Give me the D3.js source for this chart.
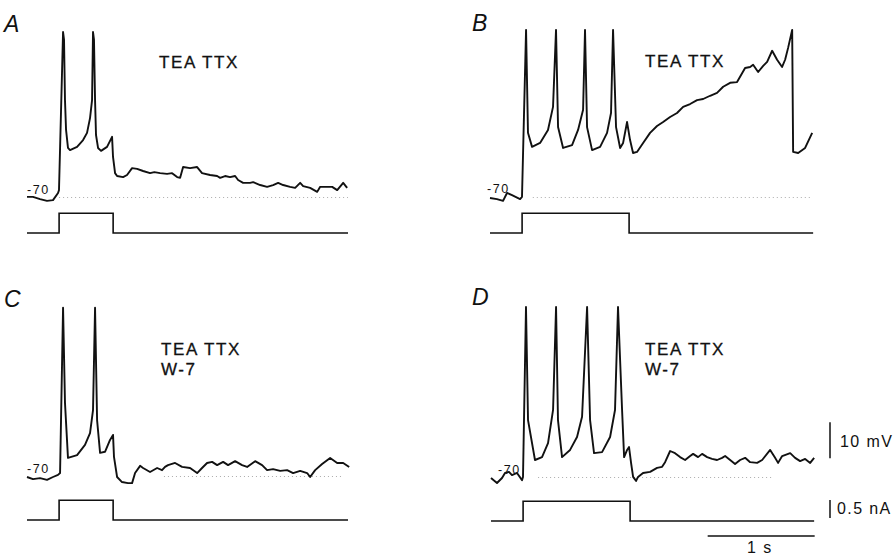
<!DOCTYPE html>
<html>
<head>
<meta charset="utf-8">
<script src="https://cdn.jsdelivr.net/npm/d3@7"></script>
<style>
  html, body { margin: 0; padding: 0; background: #fff; }
  svg text { font-family: "Liberation Sans", Arial, sans-serif; fill: #111; }
</style>
</head>
<body>
<div id="mainChart"></div>
<script>
// membrane potential, [time ms, mV]
const traceA = [
    [0, -69.7], [56, -69.7], [122, -70.3], [187, -70.8], [243, -70.6], [290, -68.6], [299, -67.8],
    [337, -23.9], [346, -26], [355, -42.8], [365, -51.1], [383, -56.1], [402, -56.7], [468, -55.8],
    [524, -53.9], [561, -51.9], [589, -47.8], [608, -42.8], [617, -23.9], [626, -26], [636, -42.8],
    [645, -52.5], [664, -56.1], [692, -56.9], [748, -55.8], [795, -53.0], [804, -58.6], [823, -63.1],
    [842, -63.9], [898, -64.2], [935, -63.6], [982, -61.7], [1029, -61.9], [1085, -62.5], [1150, -63.1],
    [1190, -62.8], [1244, -63.1], [1309, -63.3], [1356, -63.1], [1403, -64.2], [1431, -64.4], [1459, -61.4],
    [1524, -61.7], [1590, -61.4], [1636, -63.1], [1711, -63.6], [1777, -63.9], [1805, -64.4], [1851, -63.9],
    [1898, -64.2], [1945, -63.9], [1973, -65.0], [2020, -65.8], [2085, -65.8], [2113, -65.6], [2179, -66.4],
    [2244, -66.9], [2300, -66.4], [2347, -65.8], [2394, -66.4], [2459, -66.9], [2506, -67.2], [2553, -65.8],
    [2581, -66.7], [2646, -67.2], [2712, -68.3], [2740, -66.9], [2805, -66.9], [2852, -66.9], [2899, -67.8],
    [2955, -65.8], [2992, -67.2]
];
const traceB = [
    [0, -70], [65, -70.3], [122, -70.8], [159, -68.6], [206, -69.2], [281, -70.3], [299, -69.7],
    [337, -23.3], [355, -51.9], [393, -55.8], [468, -54.7], [542, -51.1], [589, -44.7], [617, -23.3],
    [636, -50.3], [683, -56.1], [767, -55.3], [823, -51.1], [870, -45.5], [888, -23.3], [907, -50.3],
    [954, -56.7], [1029, -55.8], [1094, -51.9], [1131, -46.4], [1150, -23.3], [1178, -50.3], [1216, -56.1],
    [1244, -54.7], [1281, -48.9], [1309, -53.9], [1337, -57.5], [1374, -57.2], [1431, -54.7], [1496, -51.9],
    [1561, -50.0], [1618, -48.9], [1683, -47.5], [1748, -46.4], [1805, -44.7], [1870, -43.9], [1935, -42.8],
    [1992, -42.5], [2057, -41.6], [2122, -40.8], [2179, -39.1], [2244, -38.0], [2309, -37.8], [2384, -33.9],
    [2431, -33.6], [2459, -33.0], [2506, -35.0], [2553, -33.3], [2590, -32.2], [2637, -29.1], [2683, -31.6],
    [2730, -33.6], [2758, -31.6], [2786, -28.3], [2824, -23.3], [2833, -57.2], [2880, -57.5], [2945, -56.1],
    [3011, -51.9]
];
const traceC = [
    [0, -70], [56, -70.6], [122, -70.3], [187, -70.8], [243, -70], [290, -69.4], [309, -68.9],
    [337, -23.0], [355, -49.4], [383, -64.7], [468, -63.9], [542, -61.1], [589, -57.8], [617, -51.4],
    [636, -23.0], [655, -54.2], [683, -63.3], [729, -63.0], [776, -59.7], [804, -58.3], [813, -64.4],
    [842, -70], [888, -71.4], [944, -71.7], [982, -71.7], [1010, -68.9], [1057, -66.9], [1085, -67.5],
    [1150, -68.6], [1216, -67.5], [1262, -68.1], [1290, -67.2], [1318, -66.7], [1384, -66.1], [1449, -67.2],
    [1524, -67.5], [1590, -68.9], [1636, -67.5], [1683, -66.1], [1730, -65.8], [1777, -66.7], [1833, -65.8],
    [1879, -66.7], [1945, -65.6], [2010, -66.7], [2057, -67.2], [2132, -65.6], [2197, -66.7], [2244, -68.1],
    [2300, -67.8], [2366, -68.3], [2431, -68.1], [2487, -68.9], [2553, -68.3], [2618, -68.9], [2646, -70],
    [2693, -68.1], [2758, -66.4], [2833, -64.7], [2899, -66.1], [2955, -66.1], [3011, -67.2]
];
const traceD = [
    [0, -70], [56, -71.4], [103, -70], [131, -68.6], [168, -68.3], [196, -69.2], [243, -68.6], [290, -70.6],
    [299, -69.7], [327, -22.5], [346, -53.9], [411, -65.0], [477, -64.2], [533, -60.3], [580, -51.1],
    [608, -22.5], [626, -53.9], [664, -64.2], [739, -62.2], [804, -58.6], [851, -53.0], [898, -22.5],
    [926, -53.9], [963, -63.1], [1038, -62.8], [1113, -58.6], [1159, -51.1], [1187, -22.5], [1225, -51.1],
    [1244, -64.2], [1272, -62.2], [1290, -61.4], [1309, -65.8], [1328, -69.7], [1356, -70.8], [1374, -69.7],
    [1421, -68.6], [1487, -68.3], [1552, -67.2], [1599, -66.9], [1627, -65.6], [1674, -62.5], [1720, -63.1],
    [1767, -64.2], [1814, -65.0], [1861, -63.9], [1889, -63.3], [1935, -64.2], [1973, -63.3], [2020, -64.2],
    [2066, -64.7], [2113, -65.0], [2160, -64.4], [2188, -63.9], [2235, -65.0], [2281, -66.1], [2328, -65.0],
    [2375, -64.4], [2422, -65.6], [2487, -65.8], [2534, -65.0], [2609, -62.2], [2655, -64.4], [2683, -65.8],
    [2721, -63.9], [2796, -63.1], [2842, -64.4], [2889, -65.3], [2936, -64.7], [2983, -65.8], [3020, -64.4]
];

// injected current, [time ms, nA]
const stimShort = [[0, 0], [300, 0], [300, 0.55], [805, 0.55], [805, 0], [3000, 0]];
const stimLong = [[0, 0], [300, 0], [300, 0.55], [1300, 0.55], [1300, 0], [3020, 0]];

const panelLetters = ['A', 'B', 'C', 'D'];
const drugLabels = [['TEA TTX'], ['TEA TTX'], ['TEA TTX', 'W-7'], ['TEA TTX', 'W-7']];
const restLabel = '-70';
const scaleLabels = { mv: '10 mV', na: '0.5 nA', s: '1 s' };

const CHART_SIZE = { width: 896, height: 559 };
const PX_PER_MS = 0.107;
const PX_PER_MV = 3.6;
const PX_PER_NA = 36;

const panels = [
    { trace: traceA, stim: stimShort, left: 27, vBase: 198, iBase: 233, rest: [27, 194], drugX: 159, drugY: 68, letter: [4, 32], dotted: [300, 3000] },
    { trace: traceB, stim: stimLong, left: 490, vBase: 198, iBase: 233, rest: [487, 193], drugX: 645, drugY: 67, letter: [472, 31], dotted: [400, 2990] },
    { trace: traceC, stim: stimShort, left: 27, vBase: 477, iBase: 520, rest: [27, 473], drugX: 161, drugY: 355, letter: [4, 307], dotted: [1280, 2950] },
    { trace: traceD, stim: stimLong, left: 491, vBase: 478, iBase: 521, rest: [498, 474], drugX: 645, drugY: 355, letter: [472, 305], dotted: [440, 2620] }
];

const svg = d3.select('#mainChart')
    .append('svg')
    .attr('width', CHART_SIZE.width)
    .attr('height', CHART_SIZE.height);

let lastScales = null;

panels.forEach((p, i) => {
    const x = d3.scaleLinear()
        .domain([0, 1000])
        .range([p.left, p.left + 1000 * PX_PER_MS]);
    const yV = d3.scaleLinear()
        .domain([-70, -60])
        .range([p.vBase, p.vBase - 10 * PX_PER_MV]);
    const yI = d3.scaleLinear()
        .domain([0, 1])
        .range([p.iBase, p.iBase - PX_PER_NA]);

    const g = svg.append('g');

    // resting level reference
    g.append('line')
        .attr('x1', x(p.dotted[0]))
        .attr('x2', x(p.dotted[1]))
        .attr('y1', yV(-70) - 0.5)
        .attr('y2', yV(-70) - 0.5)
        .attr('stroke', '#777')
        .attr('stroke-width', 1)
        .attr('stroke-dasharray', '1,3')
        .attr('opacity', 0.6);

    const vLine = d3.line()
        .x(d => x(d[0]))
        .y(d => yV(d[1]));
    g.append('path')
        .datum(p.trace)
        .attr('d', vLine)
        .attr('fill', 'none')
        .attr('stroke', '#111')
        .attr('stroke-width', 1.9)
        .attr('stroke-linejoin', 'round');

    const iLine = d3.line()
        .x(d => x(d[0]))
        .y(d => yI(d[1]));
    g.append('path')
        .datum(p.stim)
        .attr('d', iLine)
        .attr('fill', 'none')
        .attr('stroke', '#111')
        .attr('stroke-width', 1.6);

    g.append('text')
        .attr('x', p.letter[0])
        .attr('y', p.letter[1])
        .attr('font-size', 23)
        .attr('font-style', 'italic')
        .text(panelLetters[i]);

    g.append('text')
        .attr('x', p.rest[0])
        .attr('y', p.rest[1])
        .attr('font-size', 12.5)
        .attr('letter-spacing', 1.6)
        .text(restLabel);

    drugLabels[i].forEach((s, k) => {
        g.append('text')
            .attr('x', p.drugX)
            .attr('y', p.drugY + k * 20)
            .attr('font-size', 17)
            .attr('letter-spacing', 1.6)
            .attr('stroke', '#111')
            .attr('stroke-width', 0.3)
            .text(s);
    });

    lastScales = { x, yV, yI };
});

// scale bars, drawn in panel D's units
const sb = svg.append('g');
const { x, yV, yI } = lastScales;
const barX = 830;

sb.append('line')
    .attr('x1', barX).attr('x2', barX)
    .attr('y1', yV(-64.5)).attr('y2', yV(-54.5))
    .attr('stroke', '#111').attr('stroke-width', 1.5);
sb.append('text')
    .attr('x', 840).attr('y', 447)
    .attr('font-size', 16).attr('letter-spacing', 1.4)
    .text(scaleLabels.mv);

sb.append('line')
    .attr('x1', barX).attr('x2', barX)
    .attr('y1', yI(0.08)).attr('y2', yI(0.58))
    .attr('stroke', '#111').attr('stroke-width', 1.5);
sb.append('text')
    .attr('x', 837).attr('y', 514)
    .attr('font-size', 16).attr('letter-spacing', 1.4)
    .text(scaleLabels.na);

sb.append('line')
    .attr('x1', x(2025)).attr('x2', x(3025))
    .attr('y1', 536).attr('y2', 536)
    .attr('stroke', '#111').attr('stroke-width', 1.6);
sb.append('text')
    .attr('x', 747).attr('y', 553)
    .attr('font-size', 16).attr('letter-spacing', 1.4)
    .text(scaleLabels.s);
</script>
</body>
</html>
